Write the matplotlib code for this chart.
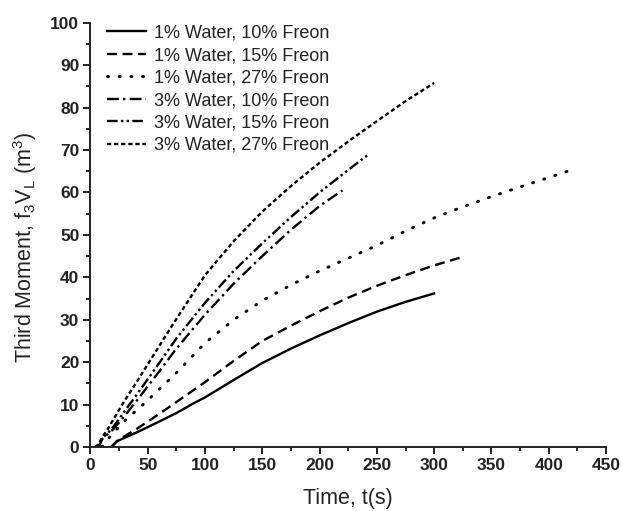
import matplotlib
matplotlib.use("Agg")
import matplotlib.pyplot as plt
from matplotlib.ticker import MultipleLocator

plt.rcParams['font.family'] = ['Liberation Sans', 'DejaVu Sans']
plt.rcParams['mathtext.fontset'] = 'custom'
plt.rcParams['mathtext.rm'] = 'Liberation Sans'
plt.rcParams['mathtext.it'] = 'Liberation Sans'

# time (s) and third moment (m^3) for each water / freon mix
t_w1_f10 = [18, 21, 23, 25, 30, 40, 50, 60, 75, 90, 100, 125, 150, 175, 200, 225, 250, 275, 300]
m_w1_f10 = [0, 0.8, 1.3, 1.6, 2.2, 3.4, 4.7, 6.0, 8.0, 10.3, 11.7, 15.8, 19.8, 23.2, 26.3,
            29.2, 31.9, 34.2, 36.2]

t_w1_f15 = [18, 21, 23, 25, 30, 40, 50, 60, 75, 100, 125, 150, 175, 200, 225, 250, 275, 300, 325]
m_w1_f15 = [0, 0.8, 1.4, 1.8, 2.6, 4.2, 6.0, 7.8, 10.6, 15.3, 20.3, 25.0, 28.6, 32.0, 35.2,
            38.0, 40.5, 42.8, 44.8]

t_w1_f27 = [10, 12, 15, 20, 25, 30, 40, 50, 60, 75, 100, 125, 150, 175, 200, 225, 250, 275,
            300, 325, 350, 375, 400, 420]
m_w1_f27 = [0, 0.8, 1.8, 3.3, 4.8, 6.2, 8.6, 11.0, 13.6, 17.5, 24.5, 30.0, 34.5, 38.2, 41.5,
            44.5, 47.5, 50.9, 54.0, 56.6, 59.0, 61.3, 63.5, 65.3]

t_w3_f10 = [5, 8, 10, 12, 15, 20, 25, 30, 40, 50, 60, 75, 100, 125, 150, 175, 200, 220]
m_w3_f10 = [0, 0.5, 1.8, 2.3, 3.0, 4.2, 5.8, 7.4, 10.8, 14.3, 17.8, 23.2, 31.2, 38.5, 45.0,
            51.2, 56.8, 60.5]

t_w3_f15 = [5, 8, 10, 12, 15, 20, 25, 30, 40, 50, 60, 75, 100, 125, 150, 175, 200, 225, 242]
m_w3_f15 = [0, 0.5, 2.0, 2.5, 3.2, 4.8, 6.6, 8.5, 12.2, 16.0, 19.8, 25.6, 34.0, 41.5, 48.0,
            54.2, 60.0, 65.3, 68.8]

t_w3_f27 = [4, 7, 10, 12, 15, 20, 25, 30, 40, 50, 60, 75, 100, 125, 150, 175, 200, 225, 250,
            275, 300]
m_w3_f27 = [0, 0.6, 2.2, 3.0, 4.2, 6.5, 8.8, 11.0, 15.2, 19.5, 23.8, 30.2, 40.5, 48.5, 55.5,
            61.5, 67.0, 72.0, 76.8, 81.5, 85.8]

labels = ['1% Water, 10% Freon', '1% Water, 15% Freon', '1% Water, 27% Freon',
          '3% Water, 10% Freon', '3% Water, 15% Freon', '3% Water, 27% Freon']

fig = plt.figure(figsize=(6.21, 5.11), dpi=100)
ax = fig.add_axes([0.1457, 0.1252, 0.8301, 0.8304])

lw = 1.7
ax.plot(t_w1_f10, m_w1_f10, color='black', lw=lw, ls='-', label=labels[0])
ax.plot(t_w1_f15, m_w1_f15, color='black', lw=lw, ls=(0, (4.2, 2.4)), label=labels[1])
ax.plot(t_w1_f27, m_w1_f27, color='black', lw=lw + 0.4, ls=(0, (0.4, 3.6)),
        dash_capstyle='round', label=labels[2])
ax.plot(t_w3_f10, m_w3_f10, color='black', lw=lw, ls=(0, (5, 1.8, 1, 1.8)), label=labels[3])
ax.plot(t_w3_f15, m_w3_f15, color='black', lw=lw, ls=(0, (4.5, 1.4, 1, 1.4, 1, 1.4)),
        label=labels[4])
ax.plot(t_w3_f27, m_w3_f27, color='black', lw=lw, ls=(0, (1.8, 1.2)), label=labels[5])

ax.set_xlim(0, 450)
ax.set_ylim(0, 100)
ax.xaxis.set_major_locator(MultipleLocator(50))
ax.xaxis.set_minor_locator(MultipleLocator(25))
ax.yaxis.set_major_locator(MultipleLocator(10))
ax.yaxis.set_minor_locator(MultipleLocator(5))

for side in ['top', 'right']:
    ax.spines[side].set_visible(False)
for side in ['left', 'bottom']:
    ax.spines[side].set_linewidth(1.4)
    ax.spines[side].set_color('#222222')

ax.tick_params(which='major', direction='out', length=5, width=1.4, colors='#222222',
               labelsize=12.5, pad=3)
ax.tick_params(which='minor', direction='out', length=3, width=1.4, colors='#222222')
for lab in ax.get_xticklabels() + ax.get_yticklabels():
    lab.set_fontweight('bold')

ax.set_xlabel('Time, t(s)', fontsize=15.5, color='#222222', labelpad=11)
ax.set_ylabel('Third Moment, f$_3$V$_L$ (m$^3$)', fontsize=15.5, color='#222222', labelpad=4)
ax.yaxis.set_label_coords(-0.1, 0.47)

ax.legend(loc='upper left', bbox_to_anchor=(0.018, 1.012), frameon=False, fontsize=13,
          handlelength=2.15, handletextpad=0.45, labelspacing=0.3, borderaxespad=0.0,
          labelcolor='#222222')

fig.savefig('out.png', dpi=100)
